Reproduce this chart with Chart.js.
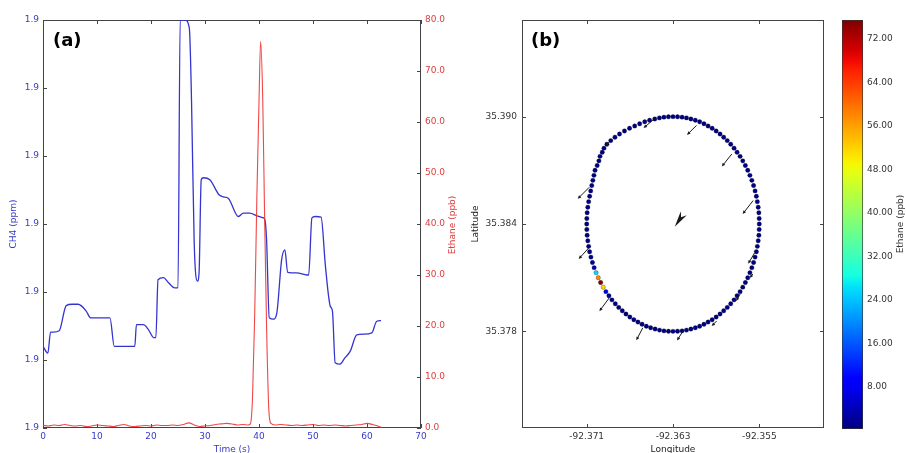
<!DOCTYPE html>
<html>
<head>
<meta charset="utf-8">
<script src="https://cdn.jsdelivr.net/npm/chart.js@4.4.0/dist/chart.umd.min.js"></script>
<style>
  body { margin: 0; background: #fff; width: 906px; height: 453px; overflow: hidden; position: relative; }
  .box { position: absolute; top: 0; height: 453px; }
  #boxA { left: 0; width: 470px; }
  #boxB { left: 460px; width: 380px; }
  #boxC { left: 830px; width: 76px; }
</style>
</head>
<body>
<div class="box" id="boxA"><canvas id="timeChart"></canvas></div>
<div class="box" id="boxB"><canvas id="mapChart"></canvas></div>
<div class="box" id="boxC"><canvas id="colorbar"></canvas></div>
<script>
// (a) time series
const ch4Time = [0, 0.9, 1.4, 1.9, 3.0, 4.3, 5.4, 6.5, 8.0, 8.8, 12.4, 13.2, 16.7, 17.0, 17.3, 18.6, 19.5, 20.5, 20.9, 21.3,
  22.3, 23.2, 24.4, 25.0, 25.4, 26.3, 27.1, 27.5, 28.0, 28.6, 28.9, 29.3, 29.7, 30.9, 32.6, 33.4, 34.3, 36.2, 37.1, 38.3,
  39.6, 40.8, 41.1, 41.4, 41.9, 42.7, 43.3, 44.2, 44.8, 45.3, 47.0, 48.9, 49.2, 49.8, 50.4, 51.5, 52.3, 53.2, 53.6, 54.1,
  55.0, 55.9, 56.9, 58.1, 59.4, 60.9, 61.8, 62.6];
const ch4Ppm = [1.89820, 1.89810, 1.89841, 1.89841, 1.89843, 1.89880, 1.89882, 1.89882, 1.89872, 1.89862,
  1.89862, 1.89820, 1.89820, 1.89820, 1.89852, 1.89852, 1.89845, 1.89833, 1.89833, 1.89918,
  1.89921, 1.89914, 1.89906, 1.89906, 1.90300, 1.90300, 1.90288, 1.90183, 1.89972, 1.89916,
  1.89928, 1.90065, 1.90068, 1.90065, 1.90043, 1.90040, 1.90038, 1.90011, 1.90016, 1.90016,
  1.90012, 1.90009, 1.90006, 1.89977, 1.89862, 1.89860, 1.89869, 1.89948, 1.89962, 1.89929,
  1.89928, 1.89925, 1.89925, 1.90009, 1.90011, 1.90010, 1.89938, 1.89879, 1.89872, 1.89796,
  1.89794, 1.89803, 1.89813, 1.89837, 1.89838, 1.89840, 1.89857, 1.89858];
const ethTime = [0, 1, 2, 3, 4, 5, 6, 7, 8, 9, 10, 11, 12, 13, 14, 15, 16, 17, 18, 19, 20, 21, 22, 23, 24, 25, 26, 27, 28, 29,
  30, 31, 32, 33, 34, 35, 36, 37, 38, 38.4, 38.8, 39.2, 39.6, 40.0, 40.3, 40.7, 41.0, 41.4, 41.8, 42.2,
  43, 44, 45, 46, 47, 48, 49, 50, 51, 52, 53, 54, 55, 56, 57, 58, 59, 60, 61, 62, 62.7];
const ethPpb = [0.5, 0.4, 0.6, 0.5, 0.7, 0.5, 0.4, 0.5, 0.3, 0.4, 0.6, 0.5, 0.4, 0.3, 0.5, 0.7, 0.4, 0.3, 0.4, 0.5,
  0.4, 0.6, 0.5, 0.5, 0.6, 0.5, 0.7, 1.0, 0.6, 0.3, 0.4, 0.5, 0.7, 0.8, 0.9, 0.8, 0.6, 0.7, 0.6,
  0.8, 6, 22, 45, 64, 75.8, 64, 44, 20, 4, 0.9,
  0.6, 0.7, 0.6, 0.5, 0.6, 0.5, 0.6, 0.7, 0.5, 0.6, 0.5, 0.6, 0.5, 0.4, 0.5, 0.6, 0.7, 0.9, 0.7, 0.4, 0.1];
const timeTicks = [0, 10, 20, 30, 40, 50, 60, 70];
const ch4Ticks = [1.897, 1.898, 1.899, 1.900, 1.901, 1.902, 1.903];
const ethTicks = [0, 10, 20, 30, 40, 50, 60, 70, 80];

// (b) drive track round the site
const trackLon = [-92.35500, -92.35501, -92.35504, -92.35510, -92.35518, -92.35527, -92.35539, -92.35553, -92.35569, -92.35587,
  -92.35607, -92.35629, -92.35653, -92.35678, -92.35706, -92.35734, -92.35765, -92.35797, -92.35830, -92.35864,
  -92.35900, -92.35937, -92.35975, -92.36013, -92.36053, -92.36093, -92.36134, -92.36175, -92.36216, -92.36258,
  -92.36300, -92.36342, -92.36384, -92.36426, -92.36469, -92.36517, -92.36562, -92.36609, -92.36655, -92.36703,
  -92.36750, -92.36796, -92.36838, -92.36877, -92.36913, -92.36940, -92.36956, -92.36977, -92.36987, -92.37003,
  -92.37023, -92.37033, -92.37043, -92.37053, -92.37063, -92.37073, -92.37082, -92.37090, -92.37096, -92.37099,
  -92.37100, -92.37099, -92.37096, -92.37090, -92.37082, -92.37073, -92.37061, -92.37047, -92.37031, -92.37013,
  -92.36993, -92.36971, -92.36947, -92.36922, -92.36894, -92.36866, -92.36835, -92.36803, -92.36770, -92.36736,
  -92.36700, -92.36663, -92.36625, -92.36587, -92.36547, -92.36507, -92.36466, -92.36425, -92.36384, -92.36342,
  -92.36300, -92.36258, -92.36216, -92.36175, -92.36134, -92.36093, -92.36053, -92.36013, -92.35975, -92.35937,
  -92.35900, -92.35864, -92.35830, -92.35797, -92.35765, -92.35734, -92.35706, -92.35678, -92.35653, -92.35629,
  -92.35607, -92.35587, -92.35569, -92.35553, -92.35539, -92.35527, -92.35518, -92.35510, -92.35504, -92.35501];
const trackLat = [35.38400, 35.38431, 35.38463, 35.38494, 35.38525, 35.38555, 35.38585, 35.38615, 35.38644, 35.38672,
  35.38700, 35.38727, 35.38753, 35.38778, 35.38801, 35.38824, 35.38846, 35.38866, 35.38885, 35.38903,
  35.38920, 35.38935, 35.38948, 35.38960, 35.38971, 35.38980, 35.38987, 35.38993, 35.38997, 35.38999,
  35.39000, 35.38999, 35.38997, 35.38993, 35.38987, 35.38980, 35.38971, 35.38960, 35.38948, 35.38935,
  35.38920, 35.38903, 35.38885, 35.38866, 35.38846, 35.38824, 35.38801, 35.38778, 35.38753, 35.38727,
  35.38700, 35.38672, 35.38644, 35.38615, 35.38585, 35.38555, 35.38525, 35.38494, 35.38463, 35.38431,
  35.38400, 35.38369, 35.38337, 35.38306, 35.38275, 35.38245, 35.38215, 35.38185, 35.38156, 35.38128,
  35.38100, 35.38073, 35.38047, 35.38022, 35.37999, 35.37976, 35.37954, 35.37934, 35.37915, 35.37897,
  35.37880, 35.37865, 35.37852, 35.37840, 35.37829, 35.37820, 35.37813, 35.37807, 35.37803, 35.37801,
  35.37800, 35.37801, 35.37803, 35.37807, 35.37813, 35.37820, 35.37829, 35.37840, 35.37852, 35.37865,
  35.37880, 35.37897, 35.37915, 35.37934, 35.37954, 35.37976, 35.37999, 35.38022, 35.38047, 35.38073,
  35.38100, 35.38128, 35.38156, 35.38185, 35.38215, 35.38245, 35.38275, 35.38306, 35.38337, 35.38369];
const trackEthane = [0.8, 0.6, 0.9, 0.7, 0.5, 0.8, 1.1, 0.7, 0.6, 0.9, 0.5, 0.7, 0.8, 0.6, 1.0, 0.7, 0.5, 0.6, 0.9, 0.8,
  0.6, 0.7, 0.5, 0.8, 0.6, 0.9, 0.7, 0.5, 0.6, 0.8, 0.7, 0.5, 0.6, 0.8, 0.7, 0.9, 0.6, 0.5, 0.7, 0.8,
  0.6, 0.9, 0.7, 0.5, 0.6, 0.8, 0.7, 0.6, 0.5, 0.7, 0.8, 0.6, 0.7, 0.9, 0.5, 0.6, 0.8, 0.7, 0.6, 0.9,
  0.7, 0.8, 0.6, 0.5, 0.9, 1.2, 1.6, 2.4, 4.5, 26, 58, 75.5, 52, 9.5, 2.1, 1.0, 0.8, 0.6, 0.7, 0.5,
  0.8, 0.6, 0.7, 0.9, 0.6, 0.5, 0.7, 0.8, 0.6, 0.7, 0.6, 0.8, 0.5, 0.7, 0.9, 0.6, 0.7, 0.5, 0.8, 0.6,
  0.7, 0.9, 0.6, 0.5, 0.8, 0.7, 0.6, 0.9, 0.7, 0.5, 0.6, 0.8, 0.7, 0.6, 0.5, 0.9, 0.7, 0.8, 0.6, 0.7];
const windLon = [-92.36471, -92.36082, -92.35755, -92.35557, -92.35543, -92.35560, -92.35678, -92.35895, -92.36207, -92.36580, -92.36890, -92.37077, -92.37077, -92.36890];
const windLat = [35.38989, 35.38951, 35.38791, 35.38531, 35.38239, 35.38121, 35.38009, 35.37858, 35.37802, 35.37820, 35.37988, 35.38269, 35.38605, 35.38858];
const windU = [-2.2, -1.9, -2.0, -2.1, -1.3, -0.6, -0.8, -1.0, -1.2, -1.3, -2.0, -2.1, -2.3, -0.8];
const windV = [-1.9, -1.9, -2.5, -2.7, -2.2, -0.8, -1.4, -1.0, -1.9, -2.5, -2.7, -2.3, -2.3, -0.8];
const meanLon = [-92.3620];
const meanLat = [35.3846];
const meanU = [-1.8];
const meanV = [-2.7];
const lonTicks = [-92.371, -92.363, -92.355];
const latTicks = [35.378, 35.384, 35.390];
const colorTicks = [8, 16, 24, 32, 40, 48, 56, 64, 72];
const colorRange = [0.3, 75.5];

const quiverScale = 5;
const tickFont = { family: "DejaVu Sans", size: 9 };
const blue = "#3a3ac8";
const red = "#e03c3c";

function jet(t) {
  t = Math.max(0, Math.min(1, t));
  const r = t < 0.35 ? 0 : t < 0.66 ? (t - 0.35) / 0.31 : t < 0.89 ? 1 : 1 - 0.5 * (t - 0.89) / 0.11;
  const g = t < 0.125 ? 0 : t < 0.375 ? (t - 0.125) / 0.25 : t < 0.64 ? 1 : t < 0.91 ? 1 - (t - 0.64) / 0.27 : 0;
  const b = t < 0.11 ? 0.5 + 0.5 * t / 0.11 : t < 0.34 ? 1 : t < 0.65 ? 1 - (t - 0.34) / 0.31 : 0;
  return `rgb(${Math.round(r * 255)},${Math.round(g * 255)},${Math.round(b * 255)})`;
}
const toUnit = v => (v - colorRange[0]) / (colorRange[1] - colorRange[0]);

/* frame + inward ticks, like matplotlib */
const frameTicks = {
  id: "frameTicks",
  beforeDatasetsDraw(chart, args, opts) {
    const { ctx, chartArea: a } = chart;
    ctx.save();
    ctx.strokeStyle = "#444";
    ctx.lineWidth = 1;
    (opts.sides || []).forEach(([id, side]) => {
      const s = chart.scales[id];
      s.ticks.forEach(t => {
        const p = Math.round(s.getPixelForValue(t.value)) + 0.5;
        ctx.beginPath();
        if (side === "bottom") { ctx.moveTo(p, a.bottom); ctx.lineTo(p, a.bottom - 4); }
        if (side === "top") { ctx.moveTo(p, a.top); ctx.lineTo(p, a.top + 4); }
        if (side === "left") { ctx.moveTo(a.left, p); ctx.lineTo(a.left + 4, p); }
        if (side === "right") { ctx.moveTo(a.right, p); ctx.lineTo(a.right - 4, p); }
        ctx.stroke();
      });
    });
    ctx.strokeRect(Math.round(a.left) + 0.5, Math.round(a.top) + 0.5, Math.round(a.width) - 1, Math.round(a.height) - 1);
    ctx.restore();
  }
};

/* panel letters and the right-hand titles that read bottom to top */
const panelText = {
  id: "panelText",
  afterDraw(chart, args, opts) {
    const { ctx } = chart;
    (opts.items || []).forEach(it => {
      ctx.save();
      ctx.font = it.font;
      ctx.fillStyle = it.color || "#000";
      ctx.textAlign = it.align || "center";
      ctx.textBaseline = it.baseline || "middle";
      ctx.translate(it.x, it.y);
      ctx.rotate(it.rotate || 0);
      ctx.fillText(it.text, 0, 0);
      ctx.restore();
    });
  }
};

function drawArrow(ctx, x0, y0, x1, y1, hl, hw) {
  const ang = Math.atan2(y1 - y0, x1 - x0);
  ctx.beginPath();
  ctx.moveTo(x0, y0);
  ctx.lineTo(x1 - Math.cos(ang) * hl * 0.6, y1 - Math.sin(ang) * hl * 0.6);
  ctx.stroke();
  ctx.beginPath();
  ctx.moveTo(x1, y1);
  ctx.lineTo(x1 - Math.cos(ang) * hl + Math.sin(ang) * hw, y1 - Math.sin(ang) * hl - Math.cos(ang) * hw);
  ctx.lineTo(x1 - Math.cos(ang) * hl - Math.sin(ang) * hw, y1 - Math.sin(ang) * hl + Math.cos(ang) * hw);
  ctx.closePath();
  ctx.fill();
}

/* wind arrows on the map */
const quiver = {
  id: "quiver",
  afterDatasetsDraw(chart) {
    const { ctx, scales: { x, y } } = chart;
    ctx.save();
    ctx.strokeStyle = "#1a1a1a";
    ctx.fillStyle = "#1a1a1a";
    ctx.lineWidth = 1;
    windLon.forEach((lon, i) => {
      const x0 = x.getPixelForValue(lon), y0 = y.getPixelForValue(windLat[i]);
      drawArrow(ctx, x0, y0, x0 + windU[i] * quiverScale, y0 - windV[i] * quiverScale, 3.5, 1.6);
    });
    meanLon.forEach((lon, i) => {
      const x0 = x.getPixelForValue(lon), y0 = y.getPixelForValue(meanLat[i]);
      const x1 = x0 + meanU[i] * quiverScale, y1 = y0 - meanV[i] * quiverScale;
      const ang = Math.atan2(y1 - y0, x1 - x0);
      const L = Math.hypot(x1 - x0, y1 - y0), w = 3.6;
      const c = Math.cos(ang), s = Math.sin(ang);
      ctx.beginPath();
      ctx.moveTo(x1, y1);
      ctx.lineTo(x1 - c * L + s * w, y1 - s * L - c * w);
      ctx.lineTo(x1 - c * L * 0.7, y1 - s * L * 0.7);
      ctx.lineTo(x1 - c * L - s * w, y1 - s * L + c * w);
      ctx.closePath();
      ctx.fill();
    });
    ctx.restore();
  }
};

const baseOpts = {
  responsive: true,
  maintainAspectRatio: false,
  animation: false,
  events: []
};

new Chart(document.getElementById("timeChart"), {
  type: "line",
  data: {
    datasets: [
      {
        label: "Ethane",
        data: ethTime.map((t, i) => ({ x: t, y: ethPpb[i] })),
        yAxisID: "y2",
        borderColor: "rgba(238,50,50,0.9)",
        borderWidth: 1.1,
        pointRadius: 0,
        cubicInterpolationMode: "monotone"
      },
      {
        label: "CH4",
        data: ch4Time.map((t, i) => ({ x: t, y: ch4Ppm[i] })),
        yAxisID: "y",
        borderColor: "#3434d0",
        borderWidth: 1.3,
        pointRadius: 0,
        cubicInterpolationMode: "monotone"
      }
    ]
  },
  options: {
    ...baseOpts,
    layout: { padding: { top: 20, left: 0, right: 0, bottom: 0 } },
    plugins: {
      legend: { display: false },
      tooltip: { enabled: false },
      frameTicks: { sides: [["x", "bottom"], ["x", "top"], ["y", "left"], ["y2", "right"]] },
      panelText: {
        items: [
          { text: "(a)", x: 53, y: 46, align: "left", baseline: "alphabetic", font: "bold 18px 'DejaVu Sans'" },
          { text: "Ethane (ppb)", x: 453, y: 225, rotate: -Math.PI / 2, color: red, font: "9px 'DejaVu Sans'" }
        ]
      }
    },
    scales: {
      x: {
        type: "linear",
        min: 0,
        max: 70,
        afterBuildTicks: s => { s.ticks = timeTicks.map(v => ({ value: v })); },
        afterFit: s => { s.height = 25; },
        grid: { display: false, drawTicks: false },
        border: { display: false },
        ticks: { color: blue, font: tickFont, padding: 3, maxRotation: 0 },
        title: { display: true, text: "Time (s)", color: blue, font: { family: "DejaVu Sans", size: 9, lineHeight: 1 }, padding: { top: 0, bottom: -1 } }
      },
      y: {
        position: "left",
        min: 1.897,
        max: 1.903,
        afterBuildTicks: s => { s.ticks = ch4Ticks.map(v => ({ value: v })); },
        afterFit: s => { s.width = 43; },
        grid: { display: false, drawTicks: false },
        border: { display: false },
        ticks: { color: blue, font: tickFont, padding: 4, callback: v => v.toFixed(1) },
        title: { display: true, text: "CH4 (ppm)", color: blue, font: { family: "DejaVu Sans", size: 9 }, padding: { top: 8, bottom: 0 } }
      },
      y2: {
        position: "right",
        min: 0,
        max: 80,
        afterBuildTicks: s => { s.ticks = ethTicks.map(v => ({ value: v })); },
        afterFit: s => { s.width = 49; },
        grid: { display: false, drawTicks: false },
        border: { display: false },
        ticks: { color: red, font: tickFont, padding: 4, callback: v => v.toFixed(1) }
      }
    }
  },
  plugins: [frameTicks, panelText]
});

new Chart(document.getElementById("mapChart"), {
  type: "scatter",
  data: {
    datasets: [{
      label: "Ethane (ppb)",
      data: trackLon.map((lon, i) => ({ x: lon, y: trackLat[i] })),
      pointRadius: 2.2,
      pointBackgroundColor: trackEthane.map(v => jet(toUnit(v))),
      pointBorderColor: "rgba(0,0,0,0.45)",
      pointBorderWidth: 0.6
    }]
  },
  options: {
    ...baseOpts,
    layout: { padding: { top: 20, left: 0, right: 16, bottom: 0 } },
    plugins: {
      legend: { display: false },
      tooltip: { enabled: false },
      frameTicks: { sides: [["x", "bottom"], ["x", "top"], ["y", "left"], ["y", "right"]] },
      panelText: {
        items: [
          { text: "(b)", x: 71, y: 46, align: "left", baseline: "alphabetic", font: "bold 18px 'DejaVu Sans'" }
        ]
      }
    },
    scales: {
      x: {
        type: "linear",
        min: -92.377,
        max: -92.349,
        afterBuildTicks: s => { s.ticks = lonTicks.map(v => ({ value: v })); },
        afterFit: s => { s.height = 25; },
        grid: { display: false, drawTicks: false },
        border: { display: false },
        ticks: { color: "#333", font: tickFont, padding: 3, maxRotation: 0, callback: v => v.toFixed(3) },
        title: { display: true, text: "Longitude", color: "#222", font: { family: "DejaVu Sans", size: 9, lineHeight: 1 }, padding: { top: 0, bottom: -1 } }
      },
      y: {
        type: "linear",
        min: 35.3726,
        max: 35.3954,
        afterBuildTicks: s => { s.ticks = latTicks.map(v => ({ value: v })); },
        afterFit: s => { s.width = 62; },
        grid: { display: false, drawTicks: false },
        border: { display: false },
        ticks: { color: "#333", font: tickFont, padding: 5, callback: v => v.toFixed(3) },
        title: { display: true, text: "Latitude", color: "#222", font: { family: "DejaVu Sans", size: 9 }, padding: { top: 10, bottom: 0 } }
      }
    }
  },
  plugins: [frameTicks, quiver, panelText]
});

function jetGradient(chart) {
  const a = chart.chartArea;
  if (!a) return "#00007f";
  const g = chart.ctx.createLinearGradient(0, a.bottom, 0, a.top);
  for (let i = 0; i <= 40; i++) g.addColorStop(i / 40, jet(i / 40));
  return g;
}

new Chart(document.getElementById("colorbar"), {
  type: "bar",
  data: {
    labels: [""],
    datasets: [{
      data: [colorRange],
      backgroundColor: ctx => jetGradient(ctx.chart),
      borderColor: "#333",
      borderWidth: 1,
      borderSkipped: false,
      barPercentage: 1,
      categoryPercentage: 1
    }]
  },
  options: {
    ...baseOpts,
    layout: { padding: { top: 20, left: 12, right: 0, bottom: 24 } },
    plugins: {
      legend: { display: false },
      tooltip: { enabled: false },
      panelText: {
        items: [
          { text: "Ethane (ppb)", x: 71, y: 224, rotate: -Math.PI / 2, color: "#333", font: "9px 'DejaVu Sans'" }
        ]
      }
    },
    scales: {
      x: { display: false },
      y: {
        position: "right",
        min: colorRange[0],
        max: colorRange[1],
        afterBuildTicks: s => { s.ticks = colorTicks.map(v => ({ value: v })); },
        afterFit: s => { s.width = 43; },
        grid: { display: false, drawTicks: false },
        border: { display: false },
        ticks: { color: "#333", font: tickFont, padding: 4, callback: v => v.toFixed(2) }
      }
    }
  },
  plugins: [panelText]
});
</script>
</body>
</html>
